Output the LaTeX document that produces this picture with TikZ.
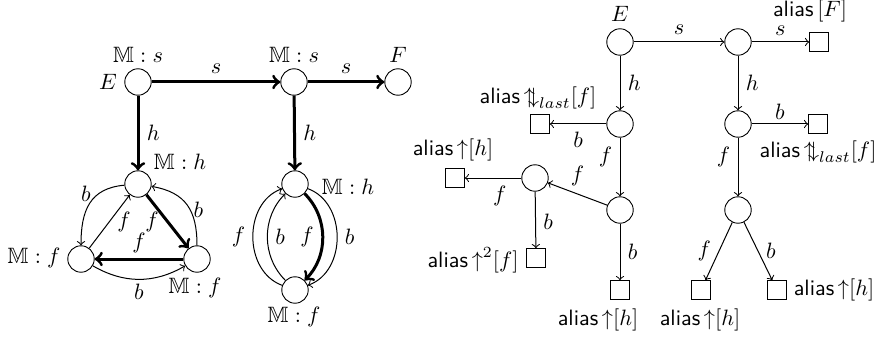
\documentclass[tikz,border=0pt]{standalone}
\usepackage{amssymb}
\newcommand{\updn}{\mathord{\uparrow\mkern-5.5mu\downarrow}}
\newcommand{\upa}{\mathord{\uparrow}}
\newcommand{\al}{\textsf{alias}\,}
\begin{document}
\begin{tikzpicture}[x=0.45pt,y=-0.45pt,
  st/.style={circle,draw,minimum size=11.9pt,inner sep=0pt},
  sq/.style={draw,minimum size=8.4pt,inner sep=0pt},
  thk/.style={->,line width=1.35pt},
  thn/.style={->,line width=0.45pt}]
\useasboundingbox (0,0) rectangle (878,338);
% ---------- left graph ----------
\node[st] (E) at (138,82) {};
\node[st] (N2) at (294,82) {};
\node[st] (F) at (398,82) {};
\node[st] (T) at (138,184) {};
\node[st] (TL) at (81,259) {};
\node[st] (TR) at (197,259) {};
\node[st] (C1) at (295,184) {};
\node[st] (C2) at (295,290) {};
\node (lE) at (108,82) {$E$};
\node (lEm) at (138,55) {$\mathbb{M}:s$};
\node (lN2) at (294,55) {$\mathbb{M}:s$};
\node (lF) at (398,55) {$F$};
\node (lT) at (180,162) {$\mathbb{M}:h$};
\node (lTL) at (34,258) {$\mathbb{M}:f$};
\node (lTR) at (195,288) {$\mathbb{M}:f$};
\node (lC1) at (348,187) {$\mathbb{M}:h$};
\node (lC2) at (294,317) {$\mathbb{M}:f$};
\draw[thk] (E) -- node[above] {$s$} (N2);
\draw[thk] (N2) -- node[above] {$s$} (F);
\draw[thk] (E) -- node[right] {$h$} (T);
\draw[thk] (N2) -- node[right] {$h$} (C1);
\draw[thk] (T) -- node[left] {$f$} (TR);
\draw[thk] (TR) -- node[above,inner sep=2pt] {$f$} (TL);
\draw[thn] (TL) -- node[right] {$f$} (T);
\draw[thn] (T) to[out=185,in=90,looseness=1.2] node[pos=0.32,left] {$b$} (TL);
\draw[thn] (TR) to[out=90,in=-10,looseness=1.2] node[pos=0.42,right=-2pt] {$b$} (T);
\draw[thn] (TL) to[bend right=30] node[below,inner sep=2pt] {$b$} (TR);
\draw[thk] (C1) to[bend left=45] node[left] {$f$} (C2);
\draw[thn] (C2) to[bend left=45] node[right] {$b$} (C1);
\draw[thn] (C2) to[out=160,in=200,looseness=1.1] node[left] {$f$} (C1);
\draw[thn] (C1) to[out=-20,in=20,looseness=1.1] node[right] {$b$} (C2);
% ---------- right tree ----------
\node[st] (E2) at (620,42) {};
\node[st] (R0) at (738,42) {};
\node[sq] (SqF) at (819,42) {};
\node[st] (L1) at (620,124) {};
\node[st] (R1) at (738,124) {};
\node[sq] (SqL1) at (540,124) {};
\node[sq] (SqR1) at (818,124) {};
\node[st] (L3) at (535,178) {};
\node[st] (L2) at (620,210) {};
\node[sq] (SqL3) at (455,178) {};
\node[sq] (SqL3b) at (536,258) {};
\node[sq] (SqL2) at (620,290) {};
\node[st] (R2) at (738,210) {};
\node[sq] (SqR2a) at (701,290) {};
\node[sq] (SqR2b) at (777,290) {};
\node (tE) at (620,14) {$E$};
\node (tF) at (810,11) {\al$[F]$};
\node (tL1) at (538,98) {\al$\updn_{last}[f]$};
\node (tR1) at (818,152) {\al$\updn_{last}[f]$};
\node (tL3) at (453,150) {\al$\upa[h]$};
\node (tL3b) at (473,260) {\al$\upa^2[f]$};
\node (tL2) at (598,320) {\al$\upa[h]$};
\node (tR2a) at (700,320) {\al$\upa[h]$};
\node (tR2b) at (834,290) {\al$\upa[h]$};
\draw[thn] (E2) -- node[above] {$s$} (R0);
\draw[thn] (R0) -- node[above,inner sep=2.5pt] {$s$} (SqF);
\draw[thn] (E2) -- node[right] {$h$} (L1);
\draw[thn] (R0) -- node[right] {$h$} (R1);
\draw[thn] (L1) -- node[below] {$b$} (SqL1);
\draw[thn] (R1) -- node[above,inner sep=2pt] {$b$} (SqR1);
\draw[thn] (L1) -- node[pos=0.33,left] {$f$} (L2);
\draw[thn] (R1) -- node[pos=0.33,left] {$f$} (R2);
\draw[thn] (L2) -- node[above] {$f$} (L3);
\draw[thn] (L3) -- node[pos=0.38,below] {$f$} (SqL3);
\draw[thn] (L3) -- node[pos=0.53,right] {$b$} (SqL3b);
\draw[thn] (L2) -- node[right] {$b$} (SqL2);
\draw[thn] (R2) -- node[left] {$f$} (SqR2a);
\draw[thn] (R2) -- node[right] {$b$} (SqR2b);
\end{tikzpicture}
\end{document}
